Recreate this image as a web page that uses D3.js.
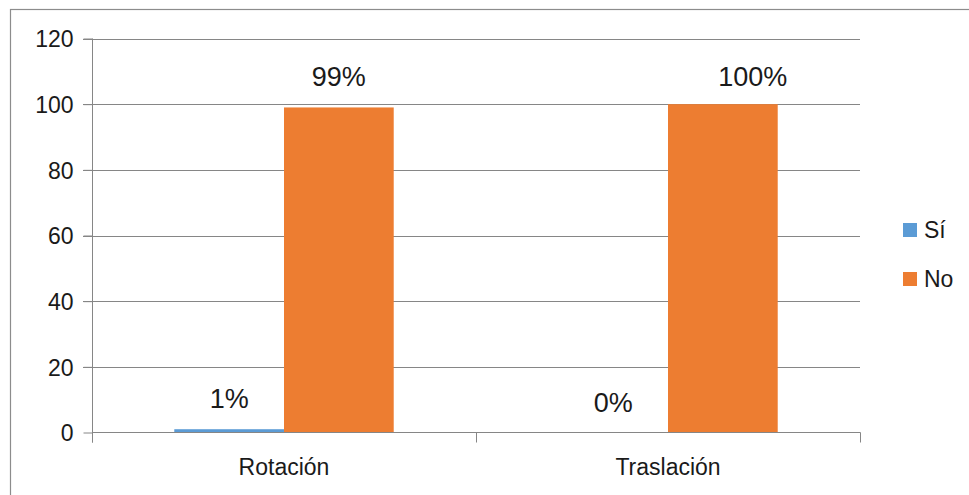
<!DOCTYPE html>
<html>
<head>
<meta charset="utf-8">
<script src="https://cdn.jsdelivr.net/npm/d3@7"></script>
<style>
  html, body { margin: 0; padding: 0; background: #fff; }
  svg { display: block; font-family: "Liberation Sans", Arial, sans-serif; }
</style>
</head>
<body>
<svg id="chart" width="969" height="495"></svg>
<script>
const categories = ["Rotación", "Traslación"];
const seriesNames = ["Sí", "No"];
const siValues = [1, 0];
const noValues = [99, 100];
const yTicks = [0, 20, 40, 60, 80, 100, 120];
const colors = ["#5B9BD5", "#ED7D31"];

(function () {
const svg = d3.select("#chart");
const W = 969, H = 495;

svg.append("rect").attr("x", 10.5).attr("y", 9.5).attr("width", W).attr("height", H)
  .attr("fill", "none").attr("stroke", "#8c8c8c").attr("stroke-width", 1.2);

const pL = 92, pR = 860, pT = 38.5, pB = 432.5;

const y = d3.scaleLinear().domain([0, 120]).range([pB, pT]);
const x0 = d3.scaleBand().domain(categories).range([pL, pR]).paddingInner(0).paddingOuter(0);
const bw = x0.bandwidth() / 3.5;
const x1 = d3.scaleBand().domain(seriesNames).range([0.75 * bw, 2.75 * bw]).padding(0);

const gridColor = "#868686";

svg.append("g").selectAll("line").data(yTicks.filter(d => d > 0)).join("line")
  .attr("x1", pL - 9).attr("x2", pR)
  .attr("y1", d => Math.round(y(d)) + 0.5).attr("y2", d => Math.round(y(d)) + 0.5)
  .attr("stroke", gridColor).attr("stroke-width", 1);

const yAxis = svg.append("g").attr("transform", `translate(${pL + 0.5},0)`)
  .call(d3.axisLeft(y).tickValues(yTicks).tickSize(9).tickPadding(10).tickFormat(d3.format("d")));
yAxis.select(".domain").remove();
yAxis.selectAll(".tick line").attr("stroke", gridColor);
yAxis.selectAll("text").attr("font-size", 23).attr("fill", "#1a1a1a")
  .attr("font-family", "'Liberation Sans', Arial, sans-serif").attr("dy", "0.36em");
svg.append("line").attr("x1", pL + 0.5).attr("x2", pL + 0.5).attr("y1", pT).attr("y2", pB + 10)
  .attr("stroke", gridColor);

const data = categories.map((c, i) => ({ cat: c, vals: [siValues[i], noValues[i]] }));
const groups = svg.append("g").selectAll("g").data(data).join("g")
  .attr("transform", d => `translate(${x0(d.cat)},0)`);
groups.selectAll("rect").data(d => d.vals.map((v, j) => ({ v, s: seriesNames[j], j })))
  .join("rect")
  .attr("x", d => x1(d.s)).attr("width", x1.bandwidth())
  .attr("y", d => y(d.v)).attr("height", d => pB - y(d.v))
  .attr("fill", d => colors[d.j]);

// labels; the topmost label is nudged right and capped (as in the original layout)
const maxLabelY = y(99) - 21;
groups.selectAll("text").data(d => d.vals.map((v, j) => ({ v, s: seriesNames[j], j })))
  .join("text")
  .attr("x", d => x1(d.s) + x1.bandwidth() / 2 + (y(d.v) - 21 < maxLabelY ? 30 : 0))
  .attr("y", d => Math.max(y(d.v) - 21, maxLabelY))
  .attr("text-anchor", "middle")
  .attr("font-size", 27).attr("fill", "#1a1a1a")
  .text(d => d.v + "%");

svg.append("line").attr("x1", pL).attr("x2", pR + 0.5).attr("y1", pB).attr("y2", pB)
  .attr("stroke", gridColor);
const bounds = [pL, x0(categories[1]), pR];
svg.append("g").selectAll("line").data(bounds).join("line")
  .attr("x1", d => Math.round(d) + 0.5).attr("x2", d => Math.round(d) + 0.5)
  .attr("y1", pB).attr("y2", pB + 10).attr("stroke", gridColor);
svg.append("g").selectAll("text").data(categories).join("text")
  .attr("x", d => x0(d) + x0.bandwidth() / 2).attr("y", 475)
  .attr("text-anchor", "middle").attr("font-size", 23).attr("fill", "#1a1a1a")
  .text(d => d);

const leg = svg.append("g").selectAll("g").data(seriesNames).join("g")
  .attr("transform", (d, i) => `translate(903,${223 + i * 49})`);
leg.append("rect").attr("width", 14).attr("height", 14).attr("fill", (d, i) => colors[i]);
leg.append("text").attr("x", 21).attr("y", 15).attr("font-size", 23).attr("fill", "#1a1a1a").text(d => d);
})();
</script>
</body>
</html>
